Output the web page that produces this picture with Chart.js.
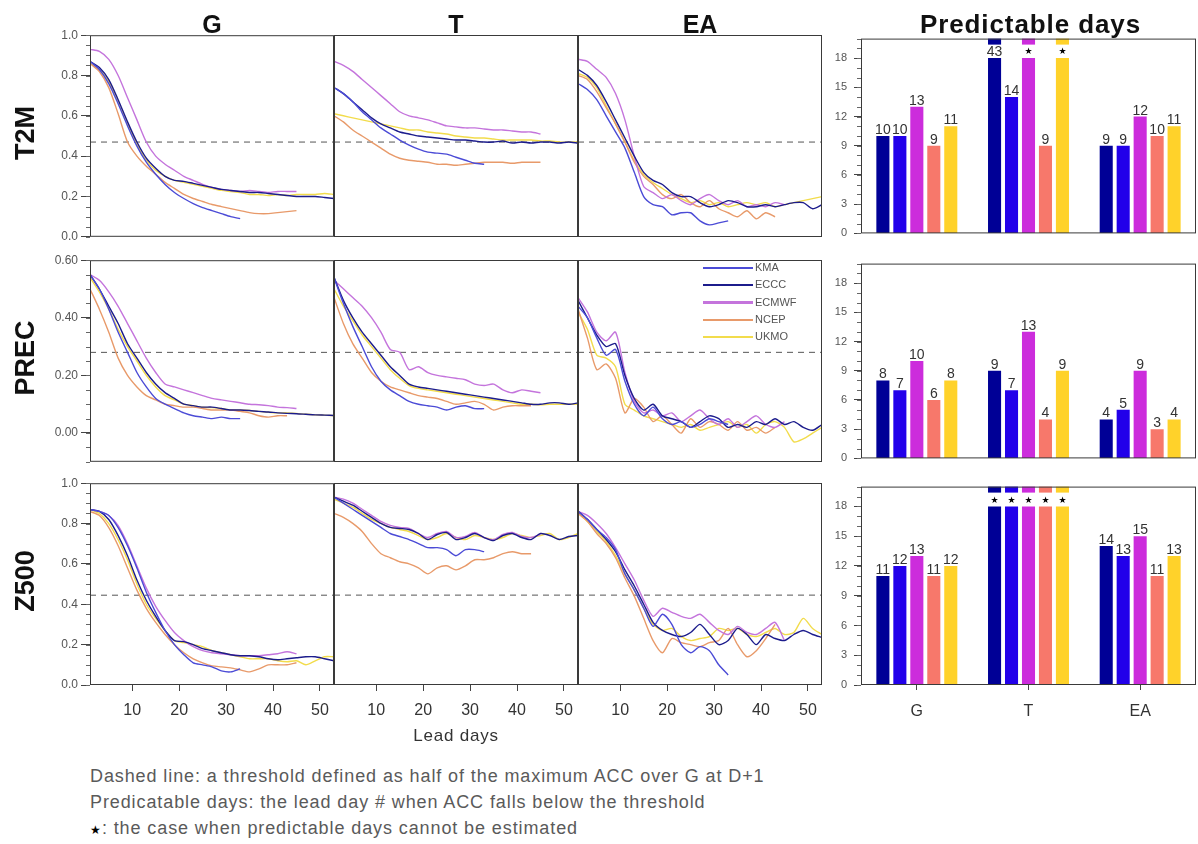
<!DOCTYPE html>
<html>
<head>
<meta charset="utf-8">
<script src="https://cdn.jsdelivr.net/npm/chart.js@4.4.0/dist/chart.umd.min.js"></script>
<style>
  body { margin: 0; background: #fff; width: 1198px; height: 844px; position: relative; overflow: hidden;
         font-family: "Liberation Sans", Arial, sans-serif; }
  canvas { position: absolute; }
  .t { position: absolute; white-space: nowrap; transform: translate(-50%, -50%); color: #111; }
  .ttl { font-size: 25px; font-weight: bold; }
  .row { font-size: 27px; font-weight: bold; transform: translate(-50%, -50%) rotate(-90deg); }
  .note { position: absolute; left: 90px; font-size: 18px; letter-spacing: 0.9px; color: #5a5a5a; white-space: nowrap; }
  .lg { position: absolute; left: 703px; font-size: 11px; color: #555; height: 14px; line-height: 14px; white-space: nowrap; }
  .lg span { display: inline-block; width: 50px; height: 2px; vertical-align: middle; margin-right: 2px; }
</style>
</head>
<body>
<script>
// lead days sampled every 2 days
const leadDays = [1,3,5,7,9,11,13,15,17,19,21,23,25,27,29,31,33,35,37,39,41,43,45,47,49,51,53];
const xTicks = [10, 20, 30, 40, 50];
const models = ['KMA', 'ECCC', 'ECMWF', 'NCEP', 'UKMO'];
const regions = ['G', 'T', 'EA'];
const variables = ['T2M', 'PREC', 'Z500'];
const thresholds = [0.47, 0.28, 0.445];

// ACC curves, series order: KMA, ECCC, ECMWF, NCEP, UKMO
const t2mG = [
  [.87,.83,.76,.66,.55,.45,.37,.31,.26,.22,.19,.165,.145,.13,.115,.10,.09],
  [.87,.84,.78,.68,.57,.47,.39,.34,.30,.28,.275,.265,.255,.245,.235,.23,.225,.22,.22,.215,.21,.205,.20,.20,.20,.195,.19],
  [.93,.92,.88,.80,.69,.58,.47,.40,.36,.33,.30,.28,.26,.245,.235,.23,.225,.23,.225,.22,.225,.225,.225],
  [.86,.82,.74,.61,.47,.40,.35,.31,.27,.24,.21,.19,.175,.16,.15,.14,.13,.12,.115,.115,.12,.125,.13],
  [.86,.83,.77,.67,.56,.46,.38,.33,.30,.28,.27,.26,.25,.24,.23,.225,.22,.21,.21,.205,.21,.205,.21,.21,.21,.215,.21]
];
const t2mT = [
  [.74,.71,.67,.62,.58,.54,.51,.48,.455,.435,.42,.415,.41,.395,.38,.365,.36],
  [.74,.71,.67,.63,.59,.56,.54,.52,.51,.50,.495,.49,.485,.48,.48,.475,.47,.47,.475,.465,.47,.465,.47,.47,.465,.47,.465],
  [.87,.85,.82,.78,.74,.70,.66,.62,.60,.59,.58,.565,.55,.545,.54,.54,.535,.53,.53,.525,.52,.52,.51],
  [.60,.57,.53,.50,.47,.44,.41,.39,.38,.375,.37,.36,.36,.355,.36,.365,.37,.37,.37,.365,.37,.37,.37],
  [.61,.60,.59,.58,.57,.56,.55,.54,.53,.53,.52,.515,.51,.50,.495,.49,.49,.485,.48,.48,.48,.48,.475,.475,.47,.47,.47]
];
const t2mEA = [
  [.76,.73,.68,.60,.52,.44,.32,.20,.16,.15,.11,.12,.12,.08,.06,.07,.08],
  [.83,.80,.75,.67,.58,.49,.40,.32,.28,.26,.22,.20,.20,.17,.15,.16,.18,.17,.15,.15,.16,.15,.16,.17,.17,.14,.16],
  [.88,.87,.83,.79,.71,.58,.40,.25,.22,.19,.21,.18,.16,.19,.21,.18,.16,.18,.15,.16,.15,.17,.16],
  [.80,.78,.72,.64,.56,.47,.37,.30,.26,.21,.19,.21,.17,.15,.18,.14,.12,.10,.13,.09,.12,.10],
  [.81,.79,.74,.65,.56,.47,.38,.31,.27,.24,.21,.19,.17,.18,.16,.17,.15,.16,.17,.16,.17,.15,.16,.17,.18,.19,.20]
];
const precG = [
  [.55,.50,.43,.35,.28,.21,.16,.12,.10,.085,.07,.06,.055,.05,.055,.05,.05],
  [.55,.50,.44,.38,.31,.26,.21,.17,.14,.12,.10,.095,.09,.09,.085,.08,.08,.078,.075,.073,.07,.068,.067,.065,.063,.062,.061],
  [.55,.53,.49,.44,.38,.32,.26,.21,.17,.16,.15,.14,.13,.12,.115,.11,.105,.10,.098,.095,.09,.088,.085],
  [.50,.43,.35,.26,.20,.16,.13,.115,.10,.095,.09,.09,.085,.08,.08,.08,.075,.07,.06,.055,.06,.06],
  [.54,.49,.43,.36,.30,.25,.20,.16,.13,.115,.10,.095,.09,.088,.085,.08,.08,.078,.075,.072,.07,.07,.068,.065,.063,.062,.06]
];
const precT = [
  [.54,.45,.37,.30,.23,.18,.15,.13,.11,.10,.095,.09,.08,.09,.095,.085,.085],
  [.54,.46,.40,.35,.31,.27,.23,.20,.17,.16,.155,.15,.145,.14,.135,.13,.125,.12,.115,.11,.105,.10,.10,.105,.105,.10,.105],
  [.53,.50,.47,.44,.40,.35,.29,.28,.22,.23,.21,.20,.195,.19,.185,.17,.165,.17,.15,.14,.15,.145,.14],
  [.47,.38,.31,.26,.21,.18,.16,.15,.14,.13,.125,.12,.11,.10,.105,.11,.10,.08,.09,.095,.095,.095],
  [.50,.44,.39,.34,.30,.26,.22,.19,.165,.155,.15,.145,.14,.135,.13,.125,.12,.115,.11,.105,.10,.10,.098,.10,.10,.10,.10]
];
const precEA = [
  [.44,.40,.33,.27,.29,.18,.10,.06,.09,.05,.03,.04,.02,.03,.05,.04,.03],
  [.46,.40,.34,.30,.31,.20,.12,.08,.10,.06,.05,.04,.02,.04,.06,.05,.02,.03,.02,.04,.03,.05,.03,.04,.02,.01,.03],
  [.47,.42,.35,.32,.35,.21,.11,.07,.08,.06,.07,.04,.06,.08,.05,.03,.05,.02,.04,.06,.03,.02,.04],
  [.43,.33,.22,.24,.19,.07,.12,.09,.04,.06,.03,.00,.05,.02,.04,.03,.01,.04,.01,.02,.00,.02],
  [.42,.36,.27,.26,.23,.10,.08,.06,.05,.04,.03,.02,.03,.01,.02,.03,.04,.02,.03,.00,.03,.04,.02,-.03,-.02,.00,.02]
];
const z500G = [
  [.87,.86,.84,.78,.69,.58,.46,.36,.27,.20,.15,.11,.10,.09,.07,.065,.08],
  [.87,.86,.82,.74,.64,.52,.42,.34,.27,.22,.215,.20,.18,.17,.16,.15,.145,.145,.14,.13,.125,.13,.135,.14,.14,.13,.12],
  [.87,.86,.84,.79,.70,.59,.48,.39,.32,.26,.22,.19,.17,.16,.155,.15,.145,.145,.145,.15,.155,.165,.155],
  [.86,.84,.78,.69,.58,.47,.38,.31,.25,.20,.16,.13,.11,.095,.09,.085,.075,.065,.08,.10,.10,.10,.11],
  [.87,.85,.80,.72,.62,.50,.40,.33,.27,.22,.21,.20,.19,.17,.16,.15,.14,.13,.13,.13,.12,.115,.12,.10,.12,.14,.14]
];
const z500T = [
  [.93,.90,.87,.84,.81,.78,.75,.735,.72,.70,.68,.68,.67,.64,.67,.67,.66],
  [.93,.91,.89,.86,.83,.80,.78,.775,.77,.75,.72,.745,.755,.72,.73,.75,.73,.715,.74,.75,.73,.72,.75,.74,.72,.735,.74],
  [.93,.92,.90,.87,.84,.81,.79,.78,.775,.75,.73,.75,.76,.73,.735,.755,.73,.72,.745,.755,.735,.73,.745],
  [.85,.83,.80,.76,.70,.65,.63,.61,.60,.58,.55,.58,.59,.57,.59,.62,.62,.63,.65,.66,.65,.65],
  [.92,.90,.88,.85,.82,.80,.78,.77,.76,.74,.72,.73,.75,.73,.72,.74,.73,.72,.73,.75,.74,.73,.74,.75,.72,.73,.75]
];
const z500EA = [
  [.86,.82,.77,.73,.67,.55,.47,.38,.29,.35,.30,.20,.16,.19,.17,.10,.05],
  [.86,.82,.77,.72,.66,.57,.49,.40,.31,.27,.25,.24,.26,.30,.25,.20,.22,.28,.25,.20,.25,.23,.22,.25,.27,.25,.235],
  [.86,.84,.80,.75,.68,.60,.52,.42,.34,.38,.36,.34,.33,.35,.31,.27,.25,.29,.26,.25,.28,.31,.22],
  [.85,.81,.75,.70,.63,.53,.44,.33,.22,.16,.23,.21,.20,.19,.21,.22,.28,.20,.14,.17,.23,.30],
  [.85,.81,.76,.71,.64,.55,.47,.38,.30,.27,.28,.24,.22,.23,.24,.28,.27,.28,.25,.24,.26,.28,.25,.26,.33,.28,.25]
];

// predictable days per model over [G, T, EA]; null = cannot be estimated
const t2mDays  = [[10,43,9],[10,14,9],[13,null,12],[9,9,10],[11,null,11]];
const precDays = [[8,9,4],[7,7,5],[10,13,9],[6,4,3],[8,9,4]];
const z500Days = [[11,null,14],[12,null,13],[13,null,15],[11,null,11],[12,null,13]];
const barCap = 18;

const yTickSets = [[0,.2,.4,.6,.8,1], [0,.2,.4,.6], [0,.2,.4,.6,.8,1]];
const barTicks = [0,3,6,9,12,15,18];

const lineColors = ['#4b4bd6', '#1c1c8c', '#c474dc', '#e89a6a', '#f2dc4c'];
const barColors  = ['#000096', '#2200ea', '#cc2cdc', '#f7786b', '#ffd22a'];

// layout
const colX = [90, 334, 578], panelW = 244;
const rowY = [35, 260, 483], panelH = 202;
const barX = 861, barW = 335;
const yRange = [{min: 0, max: 1, dec: 1}, {min: -0.1, max: 0.6, dec: 2}, {min: 0, max: 1, dec: 1}];

Chart.defaults.font.family = '"Liberation Sans", Arial, sans-serif';

function makeCanvas(left, top, w, h) {
  const c = document.createElement('canvas');
  c.width = w; c.height = h;
  c.style.left = left + 'px'; c.style.top = top + 'px';
  c.style.width = w + 'px'; c.style.height = h + 'px';
  document.body.appendChild(c);
  return c;
}

const panelBox = {
  id: 'panelBox',
  afterDraw(chart, args, opts) {
    const { ctx, chartArea: a, scales } = chart;
    ctx.save();
    ctx.strokeStyle = '#3a3a3a';
    ctx.lineWidth = 1;
    ctx.strokeRect(a.left + 0.5, a.top + 0.5, a.right - a.left - 1, a.bottom - a.top - 1);
    if (opts.minorY) {
      const y = scales.y;
      ctx.strokeStyle = '#666';
      ctx.beginPath();
      const n = Math.round((y.max - y.min) / opts.minorY);
      for (let k = 0; k <= n; k++) {
        const py = Math.round(y.getPixelForValue(y.min + k * opts.minorY)) + 0.5;
        ctx.moveTo(a.left, py); ctx.lineTo(a.left - 4, py);
      }
      ctx.stroke();
    }
    ctx.restore();
  }
};

const barLabels = {
  id: 'barLabels',
  afterDatasetsDraw(chart) {
    const { ctx, chartArea: a } = chart;
    ctx.save();
    chart.data.datasets.forEach((ds, i) => {
      chart.getDatasetMeta(i).data.forEach((bar, j) => {
        const d = ds.days[j];
        if (d === null || d > barCap) {
          ctx.fillStyle = ds.backgroundColor;
          ctx.fillRect(bar.x - bar.width / 2, a.top, bar.width, 6);
        }
        ctx.textAlign = 'center';
        if (d === null) {
          ctx.fillStyle = '#000';
          ctx.font = '9px "DejaVu Sans"';
          ctx.textBaseline = 'middle';
          ctx.fillText('\u2605', bar.x, bar.y - 6);
        } else {
          ctx.fillStyle = '#333';
          ctx.font = '14px "Liberation Sans"';
          ctx.textBaseline = 'alphabetic';
          ctx.fillText(String(d), bar.x, bar.y - 2);
        }
      });
    });
    ctx.restore();
  }
};

function linePanel(row, col, series) {
  const L = col === 0 ? 70 : 10, B = row === 2 ? 45 : 10, T = 10, R = 10;
  const c = makeCanvas(colX[col] - L, rowY[row] - T, panelW + L + R, panelH + T + B);
  const yr = yRange[row];
  const datasets = series.map((vals, m) => ({
    data: vals.map((v, i) => ({ x: leadDays[i], y: v })),
    borderColor: lineColors[m], borderWidth: 1.4, pointRadius: 0, tension: 0.25, fill: false
  }));
  datasets.push({
    data: [{ x: leadDays[0], y: thresholds[row] }, { x: leadDays[leadDays.length - 1], y: thresholds[row] }],
    borderColor: '#555', borderWidth: 1, borderDash: [6, 5], pointRadius: 0
  });
  new Chart(c, {
    type: 'line',
    data: { datasets },
    options: {
      responsive: false, animation: false, devicePixelRatio: 1,
      layout: { padding: { top: T, right: R, left: 0, bottom: 0 } },
      plugins: { legend: { display: false }, tooltip: { enabled: false }, panelBox: { minorY: col === 0 ? 0.05 : 0 } },
      scales: {
        x: {
          type: 'linear', min: 1, max: 53,
          afterBuildTicks: s => { s.ticks = xTicks.map(v => ({ value: v })); },
          afterFit: s => { s.height = B; },
          grid: { display: row === 2, drawOnChartArea: false, tickLength: 6, color: '#444' },
          border: { display: false },
          ticks: { display: row === 2, font: { size: 16 }, color: '#333', padding: 10, maxRotation: 0 }
        },
        y: {
          min: yr.min, max: yr.max,
          afterBuildTicks: s => { s.ticks = yTickSets[row].map(v => ({ value: v })); },
          afterFit: s => { s.width = L; },
          grid: { display: col === 0, drawOnChartArea: false, tickLength: 9, color: '#444' },
          border: { display: false },
          ticks: { display: col === 0, font: { size: 12 }, color: '#555', padding: 3, callback: v => v.toFixed(yr.dec) }
        }
      }
    },
    plugins: [panelBox]
  });
}

function barPanel(row, days) {
  const L = 50, B = row === 2 ? 45 : 10, T = 10, R = 2;
  const c = makeCanvas(barX - L, rowY[row] - T, barW + L + R, panelH + T + B);
  new Chart(c, {
    type: 'bar',
    data: {
      labels: regions,
      datasets: days.map((vals, m) => ({
        label: models[m],
        days: vals,
        data: vals.map(v => (v === null || v > barCap) ? barCap : v),
        backgroundColor: barColors[m],
        categoryPercentage: 0.76, barPercentage: 0.77
      }))
    },
    options: {
      responsive: false, animation: false, devicePixelRatio: 1,
      layout: { padding: { top: T, right: R, left: 0, bottom: 0 } },
      plugins: { legend: { display: false }, tooltip: { enabled: false }, panelBox: { minorY: 1 } },
      scales: {
        x: {
          afterFit: s => { s.height = B; },
          grid: { display: row === 2, offset: false, drawOnChartArea: false, tickLength: 5, color: '#444' },
          border: { display: false },
          ticks: { display: row === 2, font: { size: 16 }, color: '#333', padding: 12 }
        },
        y: {
          min: 0, max: 20,
          afterBuildTicks: s => { s.ticks = barTicks.map(v => ({ value: v })); },
          afterFit: s => { s.width = L; },
          grid: { drawOnChartArea: false, tickLength: 7, color: '#444' },
          border: { display: false },
          ticks: { font: { size: 11 }, color: '#555', padding: 7 }
        }
      }
    },
    plugins: [panelBox, barLabels]
  });
}

const panels = [[t2mG, t2mT, t2mEA], [precG, precT, precEA], [z500G, z500T, z500EA]];
panels.forEach((rowSet, r) => rowSet.forEach((s, c) => linePanel(r, c, s)));
[t2mDays, precDays, z500Days].forEach((d, r) => barPanel(r, d));

// titles and labels
function label(text, x, y, cls, style) {
  const d = document.createElement('div');
  d.className = cls; d.textContent = text;
  d.style.left = x + 'px'; d.style.top = y + 'px';
  if (style) d.style.cssText += style;
  document.body.appendChild(d);
}
regions.forEach((r, i) => label(r, colX[i] + panelW / 2, 24, 't ttl'));
label('Predictable days', barX + barW / 2 + 2, 24, 't ttl', 'font-size:26px;letter-spacing:0.9px;');
variables.forEach((v, i) => label(v, 25, rowY[i] + panelH / 2 - 3, 't row'));
label('Lead days', colX[1] + panelW / 2, 736, 't', 'font-size:17px;letter-spacing:0.8px;color:#333;');

// legend inside PREC / EA
models.forEach((m, i) => {
  const d = document.createElement('div');
  d.className = 'lg';
  d.style.top = (260 + i * 17.3) + 'px';
  d.innerHTML = '<span style="background:' + lineColors[i] + (m === 'ECMWF' ? ';height:3px' : '') + '"></span>' + m;
  document.body.appendChild(d);
});

// footnotes
const notes = [
  'Dashed line: a threshold defined as half of the maximum ACC over G at D+1',
  'Predicatable days: the lead day # when ACC falls below the threshold',
  '<span style="font-size:12px;color:#000">\u2605</span>: the case when predictable days cannot be estimated'
];
notes.forEach((n, i) => {
  const d = document.createElement('div');
  d.className = 'note';
  d.style.top = (766 + i * 26) + 'px';
  d.innerHTML = n;
  document.body.appendChild(d);
});
</script>
</body>
</html>
